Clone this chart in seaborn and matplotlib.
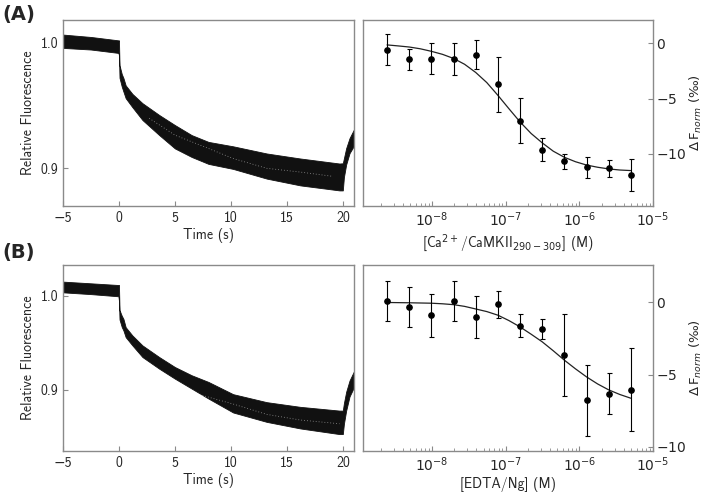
import numpy as np
import seaborn as sns
import matplotlib.pyplot as plt
from matplotlib.ticker import LogLocator, NullFormatter

sns.set_style('ticks')
plt.rcParams['font.family'] = ['cmss10', 'DejaVu Sans']
plt.rcParams['mathtext.fontset'] = 'dejavusans'
plt.rcParams['axes.unicode_minus'] = True
plt.rcParams['font.size'] = 10

# ---- time traces (band envelopes) ----
t_pts = [-5, -2.5, -0.05, 0.0, 0.05, 0.25, 0.4, 0.6, 1.2, 2.1, 3.6, 5.0, 6.5,
         8.0, 10.2, 13.2, 16.2, 19.7, 20.0, 20.1, 20.3, 20.6, 21.0]

a_top = [1.0064, 1.0045, 1.0018, 1.0018, 0.982, 0.975, 0.9718, 0.966, 0.9592,
         0.9518, 0.9424, 0.9344, 0.9264, 0.921, 0.9175, 0.9118, 0.9078, 0.9038,
         0.904, 0.908, 0.916, 0.924, 0.931]
a_bot = [0.9958, 0.9945, 0.9918, 0.990, 0.972, 0.965, 0.961, 0.9558, 0.9486,
         0.9384, 0.9264, 0.9158, 0.909, 0.9035, 0.8995, 0.8918, 0.8864, 0.8824,
         0.8824, 0.893, 0.903, 0.912, 0.918]
a_gap_t = [2.7, 5.0, 8.0, 10.2, 13.2, 16.2, 19.1]
a_gap = [0.9398, 0.9264, 0.9158, 0.9078, 0.9000, 0.8970, 0.8936]

b_top = [1.0153, 1.0135, 1.0117, 1.0117, 0.985, 0.979, 0.9756, 0.9668, 0.958,
         0.9474, 0.935, 0.9244, 0.9156, 0.9085, 0.8955, 0.887, 0.882, 0.878,
         0.878, 0.886, 0.898, 0.910, 0.920]
b_bot = [1.0039, 1.002, 0.9997, 0.995, 0.975, 0.967, 0.9633, 0.9562, 0.9474,
         0.935, 0.9226, 0.912, 0.9014, 0.8908, 0.876, 0.866, 0.859, 0.853,
         0.853, 0.864, 0.878, 0.893, 0.903]
b_gap_t = [7.2, 10.2, 13.2, 16.2, 19.7]
b_gap = [0.8950, 0.8850, 0.8740, 0.8680, 0.8640]

# ---- titration data ----
conc = [2.44e-9, 4.88e-9, 9.77e-9, 1.95e-8, 3.91e-8, 7.81e-8, 1.56e-7,
        3.13e-7, 6.25e-7, 1.25e-6, 2.5e-6, 5e-6]
a_df = [-0.6, -1.43, -1.4, -1.43, -1.03, -3.7, -7.0, -9.6, -10.67, -11.2, -11.3, -11.9]
a_err = [1.4, 0.95, 1.38, 1.42, 1.33, 2.5, 2.03, 1.05, 0.7, 0.97, 0.78, 1.45]
b_df = [0.12, -0.32, -0.9, 0.12, -1.02, -0.12, -1.6, -1.83, -3.66, -6.78, -6.32, -6.04]
b_err = [1.4, 1.4, 1.5, 1.4, 1.47, 0.95, 0.78, 0.7, 2.83, 2.45, 1.43, 2.9]

# fit curves read at the data concentrations and half-way between them
fit_conc = [2.44e-9, 3.45e-9, 4.88e-9, 6.9e-9, 9.77e-9, 1.38e-8, 1.95e-8, 2.76e-8,
            3.91e-8, 5.52e-8, 7.81e-8, 1.1e-7, 1.56e-7, 2.21e-7, 3.13e-7, 4.42e-7,
            6.25e-7, 8.84e-7, 1.25e-6, 1.77e-6, 2.5e-6, 3.54e-6, 5e-6]
a_fit = [-0.15, -0.24, -0.34, -0.5, -0.73, -1.0, -1.37, -1.9, -2.64, -3.55, -4.7,
         -5.9, -7.1, -8.15, -9.0, -9.75, -10.3, -10.7, -11.0, -11.2, -11.35, -11.45, -11.5]
b_fit = [0.0, -0.01, -0.02, -0.035, -0.05, -0.09, -0.15, -0.27, -0.45, -0.63, -0.88,
         -1.25, -1.69, -2.2, -2.73, -3.35, -4.0, -4.6, -5.16, -5.65, -6.06, -6.38, -6.64]

log_ticks = [1e-8, 1e-7, 1e-6, 1e-5]
log_labels = [r'$\mathrm{10^{-8}}$', r'$\mathrm{10^{-7}}$', r'$\mathrm{10^{-6}}$', r'$\mathrm{10^{-5}}$']

W, H = 709, 492
fig = plt.figure(figsize=(W / 100, H / 100), dpi=100)

rows = [
    dict(y0=1 - 206 / H, top=a_top, bot=a_bot, gt=a_gap_t, gv=a_gap,
         ylim=(0.87, 1.018), df=a_df, err=a_err, fit=a_fit, ylim2=(-14.7, 2.1),
         yt2=[0, -5, -10], xlab=r'[Ca$^{2+}$/CaMKII$_{290-309}$] (M)', tag='(A)', tagy=1 - 5 / H),
    dict(y0=1 - 451 / H, top=b_top, bot=b_bot, gt=b_gap_t, gv=b_gap,
         ylim=(0.835, 1.033), df=b_df, err=b_err, fit=b_fit, ylim2=(-10.3, 2.6),
         yt2=[0, -5, -10], xlab='[EDTA/Ng] (M)', tag='(B)', tagy=1 - 243 / H),
]

spine_col = '#8a8a8a'

for r in rows:
    axl = fig.add_axes([63 / W, r['y0'], 291 / W, 186 / H])
    axr = fig.add_axes([363 / W, r['y0'], 290 / W, 186 / H])

    # left: fluorescence traces
    axl.fill_between(t_pts, r['bot'], r['top'], color='#111111', lw=0.6,
                     edgecolor='#111111')
    axl.plot(r['gt'], r['gv'], color='white', lw=0.6, ls=(0, (1, 2.5)), alpha=0.55)
    axl.set_xlim(-5, 21)
    axl.set_ylim(*r['ylim'])
    axl.set_xticks([-5, 0, 5, 10, 15, 20])
    axl.set_yticks([0.9, 1.0])
    axl.set_yticklabels(['0.9', '1.0'])
    axl.set_xlabel('Time (s)', labelpad=2)
    axl.set_ylabel('Relative Fluorescence')

    # right: titration with fit
    sns.lineplot(x=fit_conc, y=r['fit'], ax=axr, color='#222222', lw=0.9)
    axr.errorbar(conc, r['df'], yerr=r['err'], fmt='o', color='black', ms=3.8,
                 elinewidth=0.8, capsize=1.8, capthick=0.8)
    axr.set_xscale('log')
    axr.set_ylim(*r['ylim2'])
    axr.set_yticks(r['yt2'])
    axr.set_yticklabels([r'$\mathrm{0}$', r'$\mathrm{-5}$', r'$\mathrm{-10}$'])
    axr.xaxis.set_minor_locator(LogLocator(base=10, subs=np.arange(2, 10), numticks=20))
    axr.xaxis.set_minor_formatter(NullFormatter())
    axr.set_xticks(log_ticks)
    axr.set_xticklabels(log_labels)
    axr.set_xlim(1.15e-9, 1.0e-5)
    axr.yaxis.tick_right()
    axr.yaxis.set_label_position('right')
    axr.set_xlabel(r['xlab'], labelpad=2)
    axr.set_ylabel(r'$\Delta\,\mathrm{F}_{norm}\ \mathrm{(‰)}$', fontsize=9.5, labelpad=1)

    for ax in (axl, axr):
        for s in ax.spines.values():
            s.set_visible(True)
            s.set_color(spine_col)
            s.set_linewidth(1.0)
        ax.tick_params(which='both', direction='in', color=spine_col, labelsize=10)
        ax.tick_params(which='major', length=3.5)
        ax.tick_params(which='minor', length=2.5)
    axr.tick_params(axis='y', which='both', left=False, right=True, pad=2)

    fig.text(0.004, r['tagy'], r['tag'], fontsize=14, fontweight='bold',
             va='top', ha='left', family='DejaVu Sans')

fig.savefig('out.png', dpi=100)
